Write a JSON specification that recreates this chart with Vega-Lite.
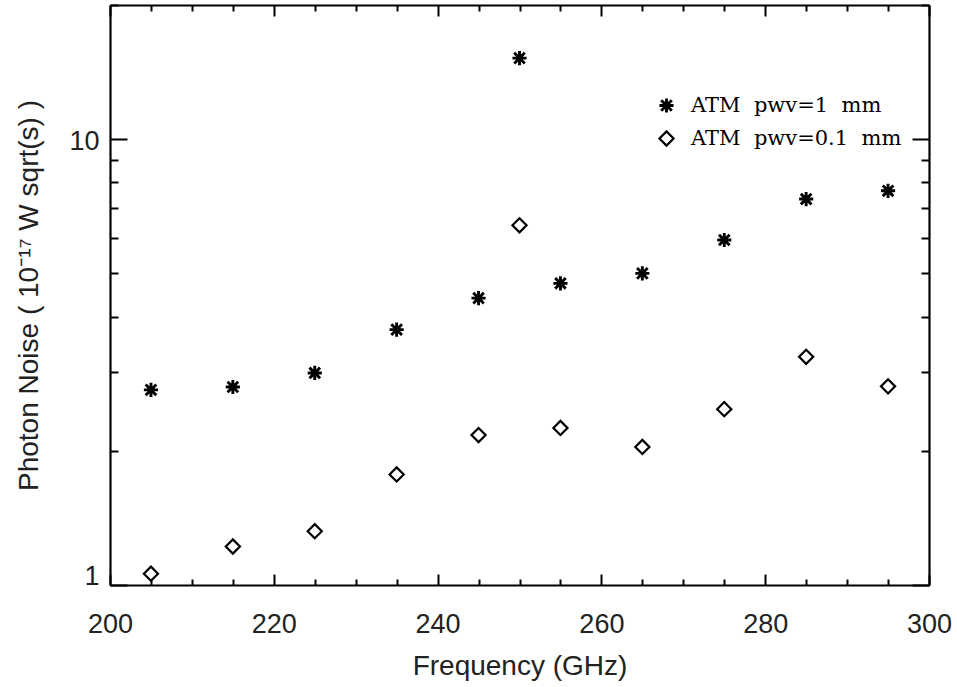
{
  "$schema": "https://vega.github.io/schema/vega-lite/v6.json",
  "width": 819,
  "height": 580,
  "autosize": "none",
  "padding": {"left": 110, "top": 5, "right": 28, "bottom": 102},
  "background": "white",
  "config": {"view": {"stroke": null}, "axis": {"grid": false}},
  "data": {
    "values": [
      {"freq": 205, "noise": 2.74, "series": "ATM pwv=1 mm"},
      {"freq": 215, "noise": 2.78, "series": "ATM pwv=1 mm"},
      {"freq": 225, "noise": 2.99, "series": "ATM pwv=1 mm"},
      {"freq": 235, "noise": 3.74, "series": "ATM pwv=1 mm"},
      {"freq": 245, "noise": 4.40, "series": "ATM pwv=1 mm"},
      {"freq": 250, "noise": 15.2, "series": "ATM pwv=1 mm"},
      {"freq": 255, "noise": 4.75, "series": "ATM pwv=1 mm"},
      {"freq": 265, "noise": 5.00, "series": "ATM pwv=1 mm"},
      {"freq": 275, "noise": 5.94, "series": "ATM pwv=1 mm"},
      {"freq": 285, "noise": 7.34, "series": "ATM pwv=1 mm"},
      {"freq": 295, "noise": 7.66, "series": "ATM pwv=1 mm"},
      {"freq": 205, "noise": 1.06, "series": "ATM pwv=0.1 mm"},
      {"freq": 215, "noise": 1.22, "series": "ATM pwv=0.1 mm"},
      {"freq": 225, "noise": 1.32, "series": "ATM pwv=0.1 mm"},
      {"freq": 235, "noise": 1.77, "series": "ATM pwv=0.1 mm"},
      {"freq": 245, "noise": 2.17, "series": "ATM pwv=0.1 mm"},
      {"freq": 250, "noise": 6.41, "series": "ATM pwv=0.1 mm"},
      {"freq": 255, "noise": 2.25, "series": "ATM pwv=0.1 mm"},
      {"freq": 265, "noise": 2.04, "series": "ATM pwv=0.1 mm"},
      {"freq": 275, "noise": 2.48, "series": "ATM pwv=0.1 mm"},
      {"freq": 285, "noise": 3.25, "series": "ATM pwv=0.1 mm"},
      {"freq": 295, "noise": 2.79, "series": "ATM pwv=0.1 mm"}
    ]
  },
  "layer": [
    {
      "mark": {"type": "point", "filled": false, "color": "black", "opacity": 1},
      "encoding": {
        "x": {
          "field": "freq", "type": "quantitative",
          "scale": {"domain": [200, 300], "nice": false, "zero": false},
          "axis": {
            "orient": "bottom",
            "values": [200,205,210,215,220,225,230,235,240,245,250,255,260,265,270,275,280,285,290,295,300],
            "labelExpr": "datum.value % 20 === 0 ? format(datum.value, 'd') : ''",
            "tickSize": {"condition": {"test": "datum.value % 20 === 0", "value": -11}, "value": -6},
            "tickWidth": 2, "tickColor": "black",
            "domainColor": "black", "domainWidth": 2.2,
            "labelFont": "Liberation Sans", "labelFontSize": 27, "labelColor": "#222",
            "labelPadding": 37, "labelFlush": false, "labelOverlap": false,
            "title": "Frequency (GHz)",
            "titleFont": "Liberation Sans", "titleFontSize": 28, "titleFontWeight": "normal", "titleColor": "#222",
            "titleY": 89, "titleBaseline": "alphabetic"
          }
        },
        "y": {
          "field": "noise", "type": "quantitative",
          "scale": {"type": "log", "domain": [1, 20], "nice": false},
          "axis": {
            "orient": "left",
            "values": [1,2,3,4,5,6,7,8,9,10,20],
            "labelExpr": "datum.value === 1 || datum.value === 10 ? format(datum.value, 'd') : ''",
            "tickSize": {"condition": {"test": "datum.value === 1 || datum.value === 10", "value": -17}, "value": -8},
            "labelOffset": {"condition": {"test": "datum.value === 1", "value": -9}, "value": 2},
            "tickWidth": 2, "tickColor": "black",
            "domainColor": "black", "domainWidth": 2.2,
            "labelFont": "Liberation Sans", "labelFontSize": 27, "labelColor": "#222",
            "labelPadding": 28, "labelFlush": false, "labelOverlap": false,
            "title": "Photon Noise ( 10⁻¹⁷ W sqrt(s) )",
            "titleFont": "Liberation Sans", "titleFontSize": 28, "titleFontWeight": "normal", "titleColor": "#222",
            "titleX": -73, "titleY": 290, "titleAngle": -90, "titleAlign": "center", "titleBaseline": "alphabetic"
          }
        },
        "shape": {
          "field": "series", "type": "nominal",
          "scale": {"domain": ["ATM pwv=1 mm", "ATM pwv=0.1 mm"], "range": ["M-1,0L1,0M0,-1L0,1M-0.75,-0.75L0.75,0.75M-0.75,0.75L0.75,-0.75", "diamond"]},
          "legend": {
            "orient": "none", "legendX": 546, "legendY": 90, "title": null, "padding": 0,
            "labelFont": "DejaVu Serif", "labelFontSize": 21, "labelColor": "black", "labelLimit": 400,
            "labelExpr": "join(split(datum.label, ' '), '\u00a0\u00a0')",
            "symbolSize": 200, "symbolStrokeWidth": 2.5, "symbolStrokeColor": "black", "symbolFillColor": "transparent",
            "labelOffset": 14, "rowPadding": 8
          }
        },
        "strokeWidth": {
          "field": "series", "type": "nominal",
          "scale": {"domain": ["ATM pwv=1 mm", "ATM pwv=0.1 mm"], "range": [2.9, 2.2]},
          "legend": null
        },
        "size": {"value": 200}
      }
    },
    {
      "mark": {"type": "point", "opacity": 0},
      "encoding": {
        "x": {
          "field": "freq", "type": "quantitative",
          "axis": {
            "orient": "top",
            "values": [200,205,210,215,220,225,230,235,240,245,250,255,260,265,270,275,280,285,290,295,300],
            "labels": false, "title": null,
            "tickSize": {"condition": {"test": "datum.value % 20 === 0", "value": -11}, "value": -6},
            "tickWidth": 2, "tickColor": "black",
            "domainColor": "black", "domainWidth": 2.2
          }
        },
        "y": {
          "field": "noise", "type": "quantitative",
          "axis": {
            "orient": "right",
            "values": [1,2,3,4,5,6,7,8,9,10,20],
            "labels": false, "title": null,
            "tickSize": {"condition": {"test": "datum.value === 1 || datum.value === 10", "value": -17}, "value": -8},
            "tickWidth": 2, "tickColor": "black",
            "domainColor": "black", "domainWidth": 2.2
          }
        }
      }
    }
  ],
  "resolve": {"axis": {"x": "independent", "y": "independent"}}
}
